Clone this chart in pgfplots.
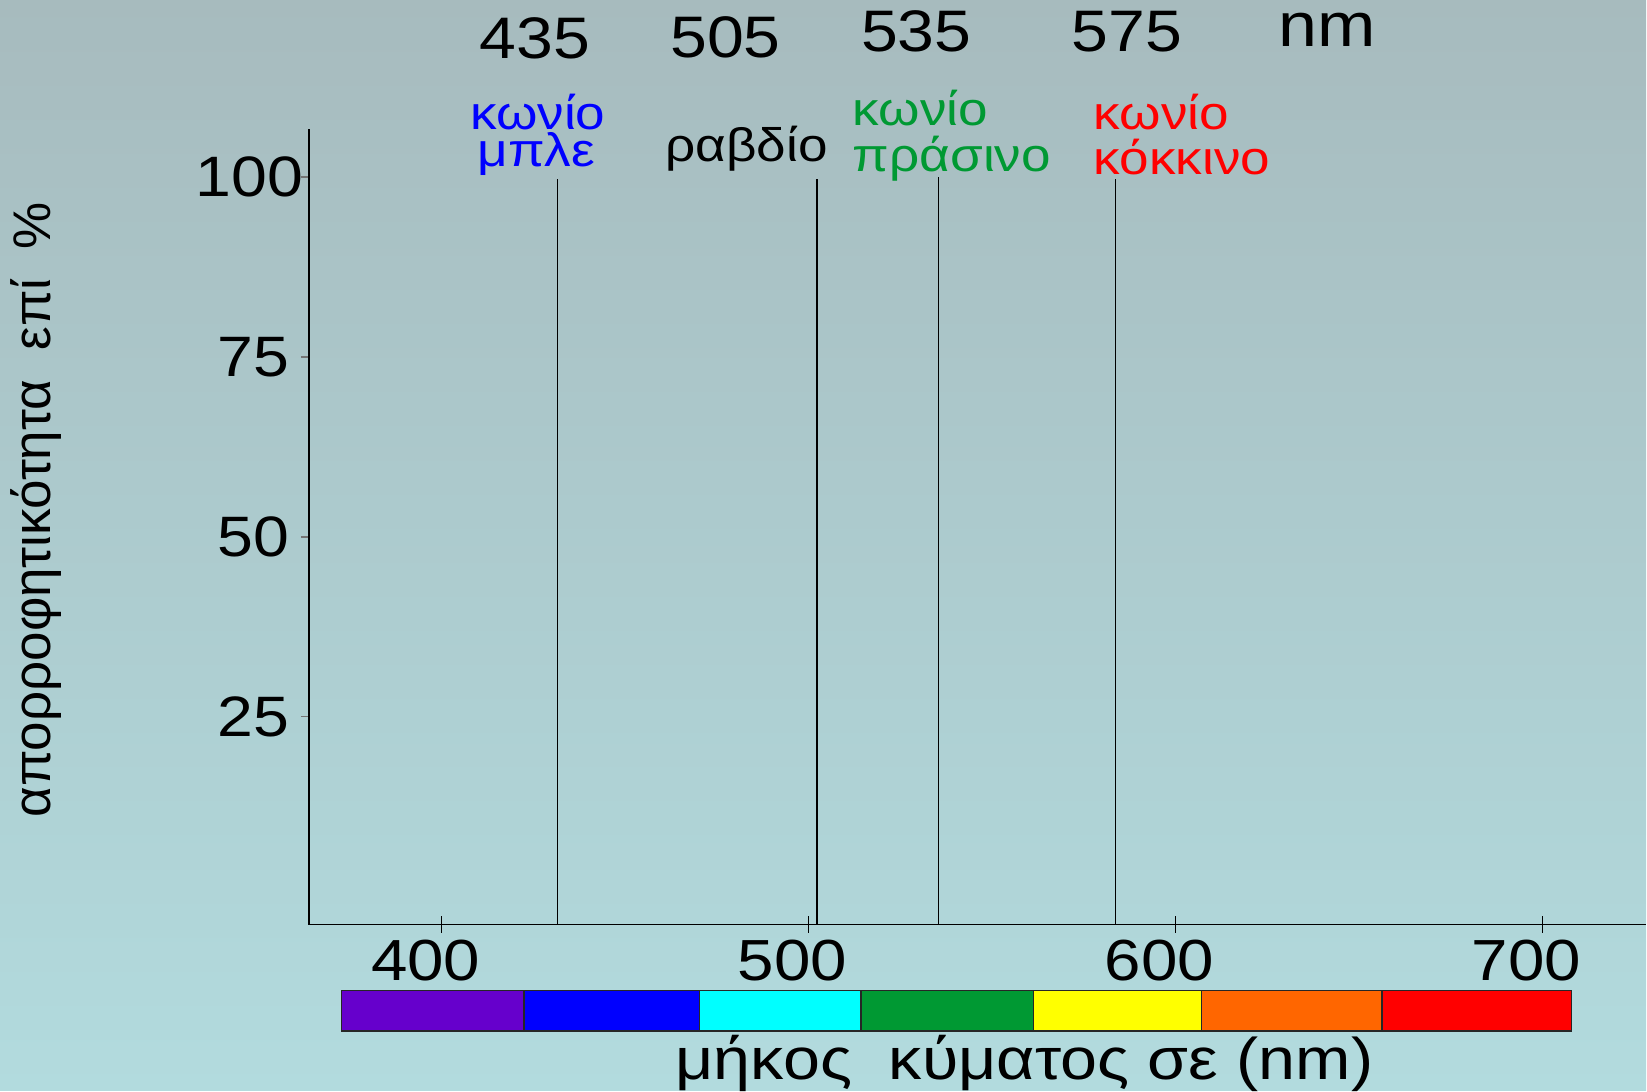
\documentclass[border=0pt]{standalone}
\usepackage{fontspec}
\setmainfont{Liberation Sans}[FakeStretch=1.13]
\newfontfamily\plainfont{Liberation Sans}
\usepackage{pgfplots}
\pgfplotsset{compat=1.18}
\definecolor{bgtop}{RGB}{167,187,190}
\definecolor{bgmid}{RGB}{158,191,194}
\definecolor{bgbot}{RGB}{178,219,222}
\definecolor{cviolet}{RGB}{102,0,204}
\definecolor{cblue}{RGB}{0,0,255}
\definecolor{ccyan}{RGB}{0,255,255}
\definecolor{cgreen}{RGB}{0,153,51}
\definecolor{cyellow}{RGB}{255,255,0}
\definecolor{corange}{RGB}{255,102,0}
\definecolor{cred}{RGB}{255,0,0}
\begin{document}
\begin{tikzpicture}
\begin{scope}[x=0.5pt,y=-0.5pt,shift={(0pt,545.5pt)}]
\shade[top color=bgtop, middle color=bgmid, bottom color=bgbot] (0,0) rectangle (1647,1091);
\end{scope}
\begin{axis}[
  at={(154.5pt,83pt)}, anchor=south west,
  scale only axis, width=669pt, height=398pt,
  xmin=363.8, xmax=728.3, ymin=-3.9, ymax=106.7,
  axis x line=bottom, axis y line=left,
  axis line style={-, black, line width=0.9pt},
  tick align=outside,
  xtick={400,500,600,700}, ytick={25,50,75,100},
  xticklabels={400,500,600,\raisebox{3pt}{700}},
  yticklabels={25,50,75,100\hspace*{-7pt}},
  minor tick num=0,
  xtick style={black, line width=0.6pt, /pgfplots/major tick length=8.5pt, yshift=4.25pt},
  ytick style={black!55, line width=0.8pt, /pgfplots/major tick length=4pt},
  /pgf/number format/assume math mode=true,
  xticklabel style={font=\fontsize{29}{30}\selectfont, anchor=north, inner sep=0pt, xshift=-8pt, yshift=-3.2pt},
  yticklabel style={font=\fontsize{28.5}{30}\selectfont, anchor=east, inner sep=0pt, xshift=-5.5pt},
  clip=false,
]
\addplot[black, line width=0.7pt] coordinates {(431.5,-3.9) (431.5,99.7)};
\addplot[black, line width=0.7pt] coordinates {(502.3,-3.9) (502.3,99.7)};
\addplot[black, line width=0.7pt] coordinates {(535.5,-3.9) (535.5,100)};
\addplot[black, line width=0.7pt] coordinates {(583.6,-3.9) (583.6,99.7)};
\end{axis}
\begin{scope}[x=0.5pt,y=-0.5pt,shift={(0pt,545.5pt)}]
% spectrum bar
\foreach \a/\b/\c in {342/524.2/cviolet, 524.2/700.2/cblue, 700.2/861.5/ccyan, 861.5/1034/cgreen, 1034/1201.8/cyellow, 1201.8/1382.8/corange, 1382.8/1572.5/cred}
  \filldraw[fill=\c, draw=black!85, line width=0.6pt] (\a,991) rectangle (\b,1031.5);
% top numbers
\begin{scope}[every node/.style={inner sep=0pt, font=\fontsize{29.3}{30}\selectfont}]
\node[anchor=base] at (535,58.3) {435};
\node[anchor=base] at (726,58) {505};
\node[anchor=base] at (916.7,51.7) {535};
\node[anchor=base] at (1127.5,52) {575};
\node[anchor=base, font=\fontsize{31}{32}\selectfont] at (1328,46.7) {nm};
\end{scope}
\begin{scope}[every node/.style={inner sep=0pt, font=\fontsize{23.5}{24}\selectfont}]
\node[anchor=base, text=cblue] at (538,129.3) {κωνίο};
\node[anchor=base, text=cblue] at (536.7,166.7) {μπλε};
\node[anchor=base] at (747,161.7) {ραβδίο};
\node[anchor=base west, text=cgreen] at (853,126) {κωνίο};
\node[anchor=base west, text=cgreen] at (853,171.7) {πράσινο};
\node[anchor=base west, text=cred] at (1094,130) {κωνίο};
\node[anchor=base west, text=cred] at (1094,175) {κόκκινο};
\end{scope}
% axis titles
\node[inner sep=0pt, anchor=base, font=\fontsize{29.4}{30}\selectfont] at (1025,1080) {μήκος\ \ κύματος σε (nm)};
\node[inner sep=0pt, anchor=base, rotate=90, font=\plainfont\fontsize{26.5}{28}\selectfont] at (51,510) {απορροφητικότητα\ \ επί\ \ \%};
\end{scope}
\end{tikzpicture}
\end{document}
